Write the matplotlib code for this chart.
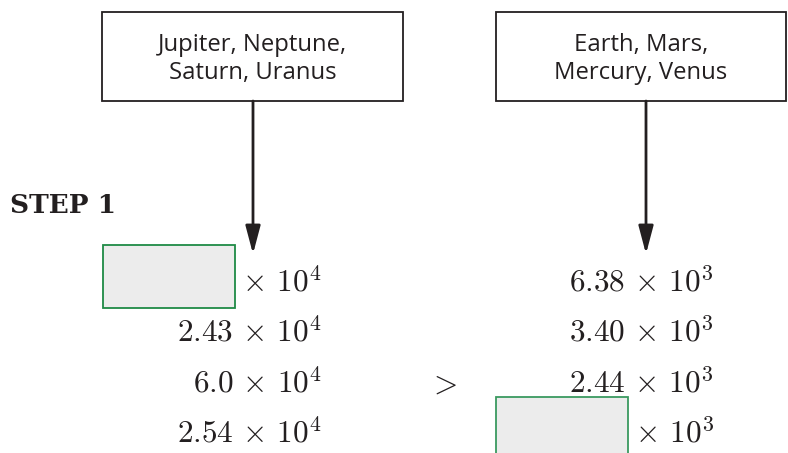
import matplotlib
matplotlib.use("Agg")
import matplotlib.pyplot as plt
from matplotlib.patches import Rectangle, FancyArrowPatch

plt.rcParams['mathtext.fontset'] = 'cm'

# ---- data ----
group_labels = ["Jupiter, Neptune,\nSaturn, Uranus", "Earth, Mars,\nMercury, Venus"]
left_coeffs = [None, "2.43", "6.0", "2.54"]
left_exponent = 4
right_coeffs = ["6.38", "3.40", "2.44", None]
right_exponent = 3
step_label = "STEP 1"
comparison = ">"

W, H = 788, 453
fig = plt.figure(figsize=(W / 100, H / 100), dpi=100)
ax = fig.add_axes([0, 0, 1, 1])
ax.set_xlim(0, W)
ax.set_ylim(H, 0)
ax.axis('off')

# top boxes
box_x = [102, 496]
box_w = [301, 290]
arrow_x = [253, 646]
for bx, bw, ax_x, lab in zip(box_x, box_w, arrow_x, group_labels):
    ax.add_patch(Rectangle((bx, 12), bw, 89, fill=False, edgecolor='#231f20', lw=1.3))
    ax.text(bx + bw / 2, 59, lab, ha='center', va='center', fontsize=17.2,
            family='Open Sans', color='#231f20', linespacing=1.25)
    ax.add_patch(FancyArrowPatch((ax_x, 101), (ax_x, 254),
                                 arrowstyle='-|>,head_length=1.7,head_width=0.45',
                                 mutation_scale=10, lw=2.0, color='#231f20',
                                 shrinkA=0, shrinkB=0))

ax.text(10, 213, step_label, ha='left', va='baseline', fontsize=19, fontweight='bold',
        family='DejaVu Serif', color='#231f20')

baselines = [292, 342, 393, 443]
fs = 22.5
for coeffs, exp, right_x in ((left_coeffs, left_exponent, 322), (right_coeffs, right_exponent, 714)):
    for c, yb in zip(coeffs, baselines):
        if c is None:
            s = r'${}\times\,10^{%d}$' % exp
        else:
            s = r'$%s\,\times\,10^{%d}$' % (c, exp)
        ax.text(right_x, yb, s, ha='right', va='baseline', fontsize=fs, color='#231f20')

# answer boxes
ax.add_patch(Rectangle((103, 245), 132, 63, facecolor='#ececec', edgecolor='#1f8a45', lw=1.3))
ax.add_patch(Rectangle((496, 397), 132, 63, facecolor='#ececec', edgecolor='#3a9a60', lw=1.3))

ax.text(443, 393, r'$%s$' % comparison, ha='center', va='baseline', fontsize=fs, color='#231f20')

fig.savefig('out.png', dpi=100)
